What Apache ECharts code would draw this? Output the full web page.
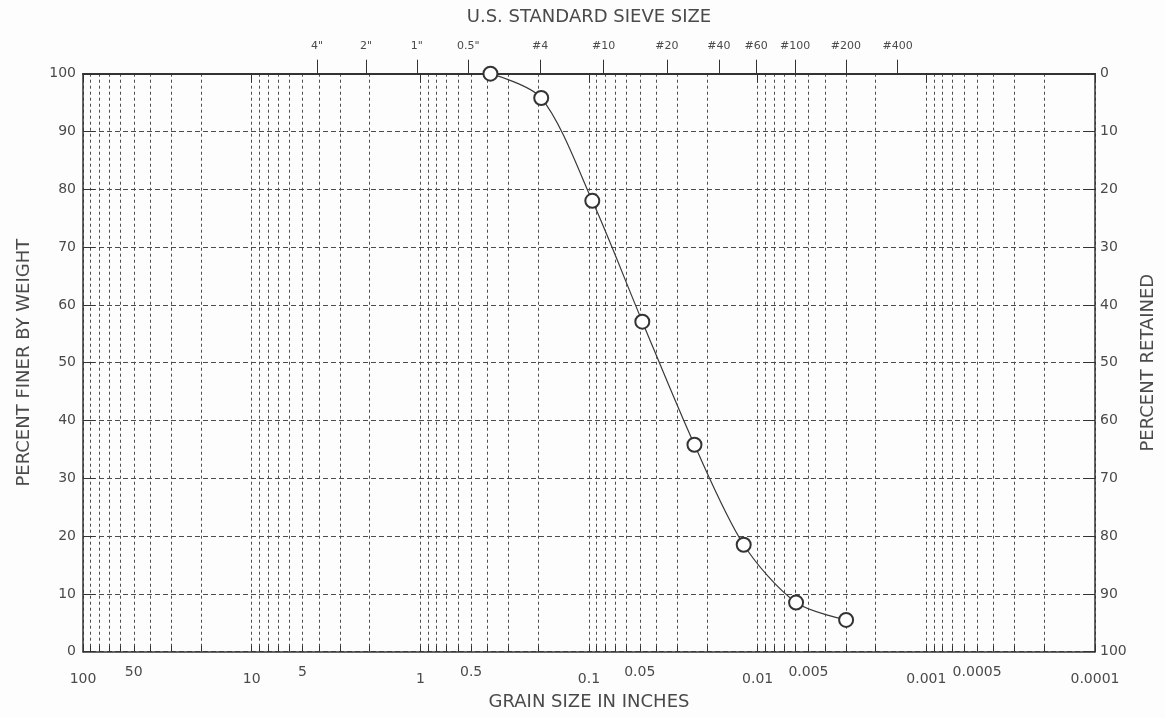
<!DOCTYPE html>
<html>
<head>
<meta charset="utf-8">
<title>Grain size distribution</title>
<script src="https://cdn.jsdelivr.net/npm/echarts@6/dist/echarts.min.js"></script>
<style>
  html, body { margin: 0; padding: 0; background: #fdfdfd; }
  #chart { width: 1165px; height: 718px; }
</style>
</head>
<body>
<div id="chart"></div>
<script>
// sample points (grain size in inches, percent finer)
const grainSize = [0.384, 0.192, 0.0956, 0.0483, 0.0237, 0.0121, 0.00592, 0.00299];
const percentFiner = [100, 95.8, 78.0, 57.1, 35.8, 18.5, 8.5, 5.5];

// log grid lines (decades and 2..9 in between)
const gridSizes = [
  100, 90, 80, 70, 60, 50, 40, 30, 20,
  10, 9, 8, 7, 6, 5, 4, 3, 2,
  1, 0.9, 0.8, 0.7, 0.6, 0.5, 0.4, 0.3, 0.2,
  0.1, 0.09, 0.08, 0.07, 0.06, 0.05, 0.04, 0.03, 0.02,
  0.01, 0.009, 0.008, 0.007, 0.006, 0.005, 0.004, 0.003, 0.002,
  0.001, 0.0009, 0.0008, 0.0007, 0.0006, 0.0005, 0.0004, 0.0003, 0.0002,
  0.0001
];
const decadeLabels = [100, 10, 1, 0.1, 0.01, 0.001, 0.0001];
const halfLabels = [50, 5, 0.5, 0.05, 0.005, 0.0005];

// U.S. standard sieve openings as drawn on the top scale
const sieveSizes = [4.1, 2.1, 1.05, 0.52, 0.195, 0.082, 0.0345, 0.017, 0.0102, 0.006, 0.003, 0.00148];
const sieveLabels = ['4"', '2"', '1"', '0.5"', '#4', '#10', '#20', '#40', '#60', '#100', '#200', '#400'];

const textColor = '#4a4a4a';
const lineColor = '#333';
const font = 'DejaVu Sans';

function nearestSieve(v) {
  let best = 0;
  sieveSizes.forEach((s, i) => {
    if (Math.abs(Math.log(s) - Math.log(v)) < Math.abs(Math.log(sieveSizes[best]) - Math.log(v))) best = i;
  });
  return sieveLabels[best];
}

const chart = echarts.init(document.getElementById('chart'), null, { renderer: 'canvas' });

const logBase = {
  type: 'log',
  logBase: 10,
  min: 0.0001,
  max: 100,
  inverse: true,
  gridIndex: 0
};

const option = {
  backgroundColor: '#fdfdfd',
  animation: false,
  textStyle: { fontFamily: font },
  grid: { left: 83, right: 68.5, top: 73.7, bottom: 66.3, containLabel: false },
  xAxis: [
    Object.assign({}, logBase, {
      position: 'bottom',
      name: 'GRAIN SIZE IN INCHES',
      nameLocation: 'middle',
      nameGap: 42,
      nameTextStyle: { color: textColor, fontSize: 18, fontFamily: font },
      axisLine: { show: true, lineStyle: { color: lineColor, width: 1.5 } },
      axisTick: { show: true, inside: true, length: 6, customValues: gridSizes,
        lineStyle: { color: lineColor, width: 1 } },
      minorTick: { show: false },
      splitLine: { show: true, lineStyle: { color: '#4d4d4d', width: 1, type: [3, 3] } },
      axisLabel: { customValues: decadeLabels, margin: 21, color: textColor, fontSize: 14,
        fontFamily: font, formatter: v => String(v), hideOverlap: false }
    }),
    Object.assign({}, logBase, {
      position: 'bottom',
      axisLine: { show: false },
      axisTick: { show: true, inside: false, length: 9, customValues: decadeLabels,
        lineStyle: { color: lineColor, width: 1 } },
      splitLine: { show: false },
      axisLabel: { customValues: halfLabels, margin: 14, color: textColor, fontSize: 14,
        fontFamily: font, formatter: v => String(v), hideOverlap: false }
    }),
    Object.assign({}, logBase, {
      position: 'top',
      name: 'U.S. STANDARD SIEVE SIZE',
      nameLocation: 'middle',
      nameGap: 47,
      nameTextStyle: { color: textColor, fontSize: 18, fontFamily: font },
      axisLine: { show: true, lineStyle: { color: lineColor, width: 2 } },
      axisTick: { show: true, inside: false, length: 14, customValues: sieveSizes,
        lineStyle: { color: lineColor, width: 1 } },
      splitLine: { show: false },
      axisLabel: { customValues: sieveSizes, margin: 22, color: textColor, fontSize: 11,
        fontFamily: font, formatter: v => nearestSieve(v), hideOverlap: false }
    })
  ],
  yAxis: [
    {
      type: 'value',
      min: 0,
      max: 100,
      interval: 10,
      position: 'left',
      name: 'PERCENT FINER BY WEIGHT',
      nameLocation: 'middle',
      nameGap: 50,
      nameTextStyle: { color: textColor, fontSize: 18, fontFamily: font },
      axisLine: { show: true, lineStyle: { color: lineColor, width: 1.5 } },
      axisTick: { show: true, inside: true, length: 12, lineStyle: { color: lineColor, width: 1 } },
      splitLine: { show: true, lineStyle: { color: '#4d4d4d', width: 1, type: [5, 3] } },
      axisLabel: { margin: 7, color: textColor, fontSize: 14, fontFamily: font }
    },
    {
      type: 'value',
      min: 0,
      max: 100,
      interval: 10,
      inverse: true,
      position: 'right',
      name: 'PERCENT RETAINED',
      nameLocation: 'middle',
      nameGap: 44,
      nameRotate: 90,
      nameTextStyle: { color: textColor, fontSize: 18, fontFamily: font },
      axisLine: { show: true, lineStyle: { color: lineColor, width: 1.5 } },
      axisTick: { show: true, inside: true, length: 12, lineStyle: { color: lineColor, width: 1 } },
      splitLine: { show: false },
      axisLabel: { margin: 5, color: textColor, fontSize: 14, fontFamily: font,
        formatter: v => String(v) }
    }
  ],
  series: [
    {
      name: 'Percent finer',
      type: 'line',
      xAxisIndex: 0,
      yAxisIndex: 0,
      smooth: 0.3,
      symbol: 'emptyCircle',
      symbolSize: 14,
      itemStyle: { color: '#333', borderColor: '#333', borderWidth: 1.2 },
      lineStyle: { color: '#3a3a3a', width: 1.2 },
      data: grainSize.map((s, i) => [s, percentFiner[i]]),
      z: 5
    }
  ]
};

chart.setOption(option);
</script>
</body>
</html>
